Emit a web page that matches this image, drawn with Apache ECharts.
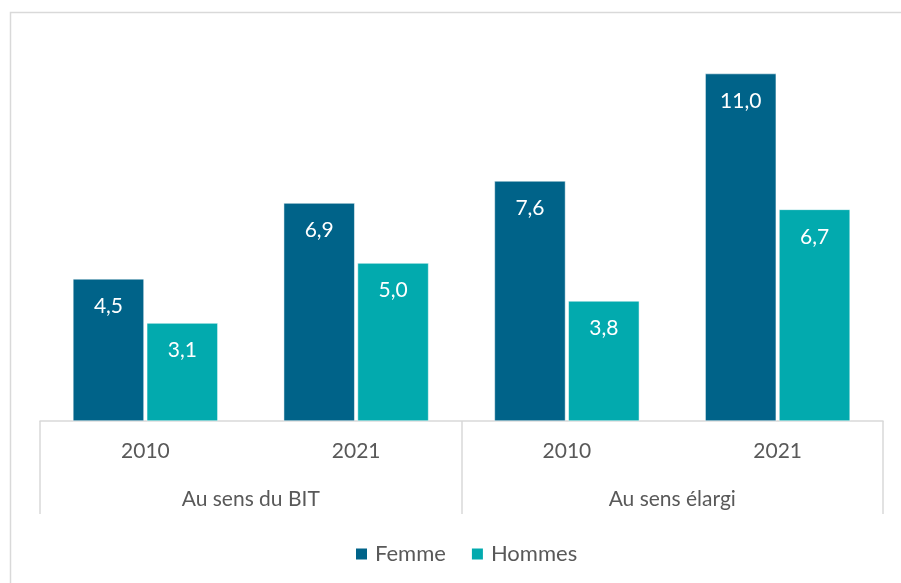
<!DOCTYPE html>
<html><head><meta charset="utf-8">
<script src="https://cdn.jsdelivr.net/npm/echarts@6/dist/echarts.min.js"></script>
<style>html,body{margin:0;padding:0;background:#fff}#c{width:901px;height:583px}</style>
</head><body><div id="c"></div>
<script>
const years = ['2010', '2021', '2010', '2021'];
const groups = ['Au sens du BIT', 'Au sens élargi'];
const femme = [4.5, 6.9, 7.6, 11.0];
const hommes = [3.1, 5.0, 3.8, 6.7];
const seriesNames = ['Femme', 'Hommes'];

const font = 'Lato, "Open Sans", sans-serif';
const fs = 21;
const fmt = p => p.value.toFixed(1).replace('.', ',');
const chart = echarts.init(document.getElementById('c'), null, {renderer: 'canvas'});
chart.setOption({
  animation: false,
  graphic: [{
    type: 'rect', shape: {x: 10.5, y: 12.5, width: 900, height: 620},
    style: {fill: 'none', stroke: '#d9d9d9', lineWidth: 1.5}, z: -1
  }],
  grid: {left: 40, right: 18, top: 42, bottom: 162},
  legend: {
    data: seriesNames, top: 538, left: 349, icon: 'rect',
    itemWidth: 13, itemHeight: 13, itemGap: 24,
    textStyle: {fontFamily: font, fontSize: 22, color: '#595959', padding: [0, 0, 0, 2]}
  },
  xAxis: [{
    type: 'category', data: years, position: 'bottom',
    axisLine: {show: true, lineStyle: {color: '#d9d9d9', width: 1.5}},
    axisTick: {show: false},
    axisLabel: {margin: 20, fontFamily: font, fontSize: fs, color: '#595959'}
  }, {
    type: 'category', data: groups, position: 'bottom',
    axisLine: {show: false},
    axisTick: {show: true, length: 93, interval: 0, lineStyle: {color: '#d9d9d9', width: 1.5}},
    axisLabel: {margin: 68, fontFamily: font, fontSize: fs, color: '#595959'}
  }],
  yAxis: {type: 'value', min: 0, max: 12, show: false, splitLine: {show: false}},
  series: [{
    name: seriesNames[0], type: 'bar', data: femme, xAxisIndex: 0,
    barWidth: '33.7%', barGap: '4%',
    itemStyle: {color: '#006389', borderColor: '#ffffff', borderWidth: 0.5},
    label: {show: true, position: 'insideTop', distance: 17, formatter: fmt,
      color: '#ffffff', fontFamily: font, fontSize: fs}
  }, {
    name: seriesNames[1], type: 'bar', data: hommes, xAxisIndex: 0,
    barWidth: '33.7%', barGap: '4%',
    itemStyle: {color: '#02AAAE', borderColor: '#ffffff', borderWidth: 0.5},
    label: {show: true, position: 'insideTop', distance: 17, formatter: fmt,
      color: '#ffffff', fontFamily: font, fontSize: fs}
  }]
});
</script></body></html>
